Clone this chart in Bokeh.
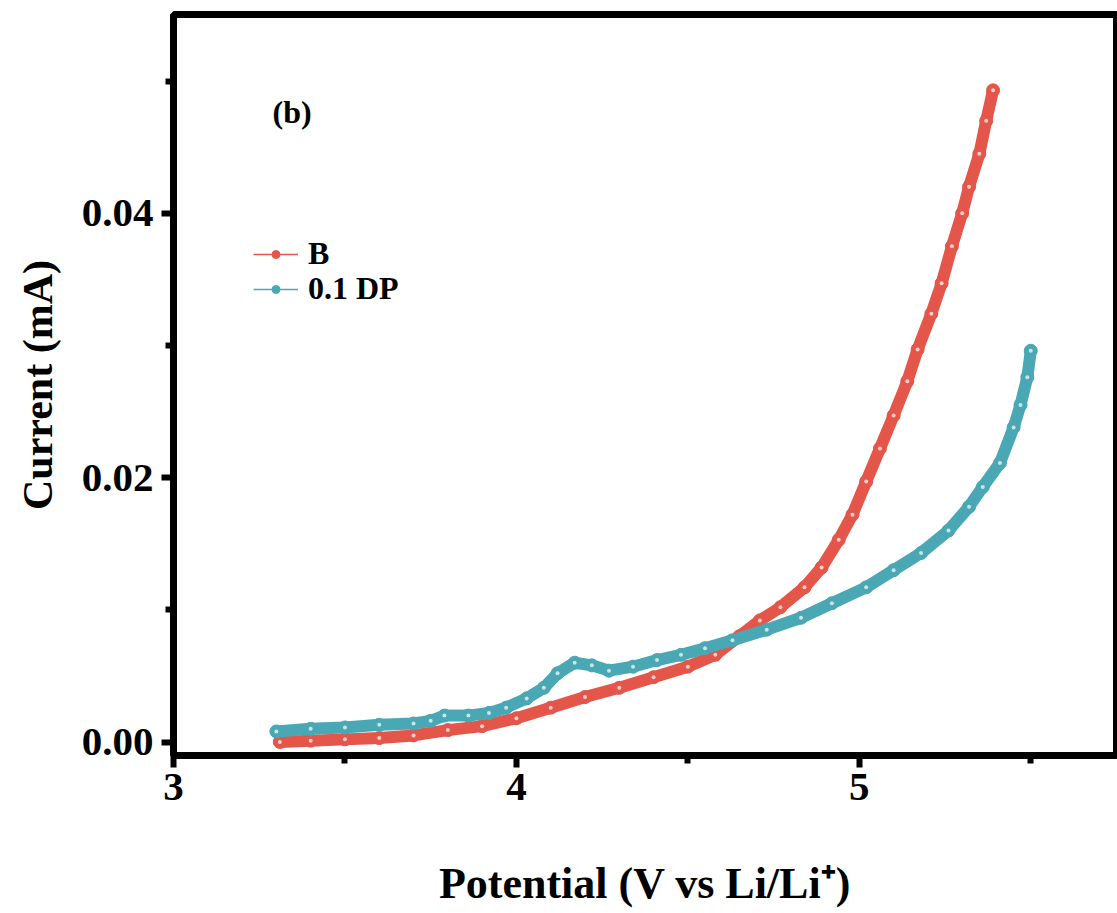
from bokeh.plotting import figure
from bokeh.models import Range1d, Legend, LegendItem, Label, FixedTicker
from bokeh.embed import file_html
from bokeh.resources import INLINE

# ---- data ----
series_names = ["B", "0.1 DP"]
b_potential = [3.31, 3.40, 3.50, 3.60, 3.70, 3.80, 3.90, 4.00, 4.10, 4.20,
               4.30, 4.40, 4.50, 4.58, 4.65, 4.71, 4.77, 4.84, 4.89, 4.94,
               4.98, 5.02, 5.06, 5.10, 5.14, 5.17, 5.21, 5.24, 5.27, 5.30,
               5.32, 5.35, 5.37, 5.39]
b_current = [0.0000, 0.0001, 0.0002, 0.0003, 0.0005, 0.0009, 0.0012, 0.0018, 0.0026, 0.0034,
             0.0041, 0.0049, 0.0057, 0.0066, 0.0080, 0.0092, 0.0102, 0.0117, 0.0132, 0.0153,
             0.0172, 0.0197, 0.0222, 0.0247, 0.0273, 0.0297, 0.0324, 0.0347, 0.0375, 0.0400,
             0.0420, 0.0445, 0.0470, 0.0493]
dp_potential = [3.30, 3.40, 3.50, 3.60, 3.70, 3.75, 3.79, 3.86, 3.92, 3.97,
                4.03, 4.08, 4.12, 4.17, 4.22, 4.27, 4.34, 4.41, 4.48, 4.55,
                4.63, 4.73, 4.83, 4.92, 5.02, 5.10, 5.18, 5.26, 5.32, 5.36,
                5.41, 5.45, 5.47, 5.49, 5.50]
dp_current = [0.0008, 0.0010, 0.0011, 0.0013, 0.0014, 0.0016, 0.0020, 0.0020, 0.0022, 0.0026,
              0.0033, 0.0041, 0.0052, 0.0060, 0.0058, 0.0054, 0.0057, 0.0062, 0.0066, 0.0071,
              0.0077, 0.0085, 0.0094, 0.0105, 0.0117, 0.0130, 0.0143, 0.0160, 0.0178, 0.0193,
              0.0211, 0.0238, 0.0255, 0.0276, 0.0296]
x_ticks = [3, 4, 5]
y_ticks = [0.00, 0.02, 0.04]
y_tick_labels = {0.00: "0.00", 0.02: "0.02", 0.04: "0.04"}
x_minor = [3.5, 4.5, 5.5]
y_minor = [0.01, 0.03, 0.05]

RED = "#E4564A"
TEAL = "#4AA7B4"
FONT = "Liberation Serif"

p = figure(width=1117, height=913,
           x_range=Range1d(3, 5.75), y_range=Range1d(-0.00102, 0.05504),
           output_backend="svg", toolbar_location=None,
           min_border_left=173, min_border_right=1,
           min_border_top=14, min_border_bottom=158)
p.background_fill_color = "white"
p.border_fill_color = "white"
p.grid.visible = False
p.outline_line_color = "black"
p.outline_line_width = 7

for ax in (p.xaxis[0], p.yaxis[0]):
    ax.axis_line_color = None
    ax.major_tick_line_color = "black"
    ax.major_tick_line_width = 6
    ax.major_tick_out = 12
    ax.major_tick_in = 0
    ax.minor_tick_line_color = "black"
    ax.minor_tick_line_width = 6
    ax.minor_tick_out = 8
    ax.minor_tick_in = 0
    ax.major_label_text_font = FONT
    ax.major_label_text_font_style = "bold"
    ax.major_label_text_font_size = "41px"
    ax.major_label_text_color = "black"
    ax.axis_label_text_font = FONT
    ax.axis_label_text_font_style = "bold"
    ax.axis_label_text_color = "black"

p.xaxis.ticker = FixedTicker(ticks=x_ticks, minor_ticks=x_minor)
p.yaxis.ticker = FixedTicker(ticks=y_ticks, minor_ticks=y_minor)
p.yaxis.major_label_overrides = y_tick_labels
p.xaxis.major_label_standoff = 6
p.yaxis.major_label_standoff = 8
p.xaxis.axis_label = "Potential (V vs Li/Li\u207a)"
p.yaxis.axis_label = "Current (mA)"
p.xaxis.axis_label_text_font_size = "44px"
p.yaxis.axis_label_text_font_size = "42px"
p.xaxis.axis_label_standoff = 56
p.yaxis.axis_label_standoff = 18

legend_y = [483, 448]
for name, xs, ys, col, ly in [(series_names[0], b_potential, b_current, RED, legend_y[0]),
                              (series_names[1], dp_potential, dp_current, TEAL, legend_y[1])]:
    p.line(xs, ys, line_color=col, line_width=12, line_join="round", line_cap="round")
    thin = p.line(xs, ys, line_color=col, line_width=1.5)
    dots = p.scatter(xs, ys, marker="circle", size=13, fill_color=col, line_color=col)
    p.scatter(xs, ys, marker="circle", size=4, fill_color="white", fill_alpha=0.7, line_color=None)
    lg = Legend(items=[LegendItem(label=name, renderers=[thin, dots])],
                location=(80, ly), orientation="vertical",
                background_fill_alpha=0, border_line_color=None,
                label_text_font=FONT, label_text_font_style="bold",
                label_text_font_size="32px", label_text_color="black",
                glyph_width=45, glyph_height=20, label_height=20, label_standoff=10,
                spacing=0, padding=0, margin=0)
    p.add_layout(lg)

p.add_layout(Label(x=99, y=644, x_units="screen", y_units="screen", text="(b)",
                   text_font=FONT, text_font_style="bold", text_font_size="32px",
                   text_baseline="middle", text_color="black"))

open("out.html", "w").write(file_html(p, INLINE))
